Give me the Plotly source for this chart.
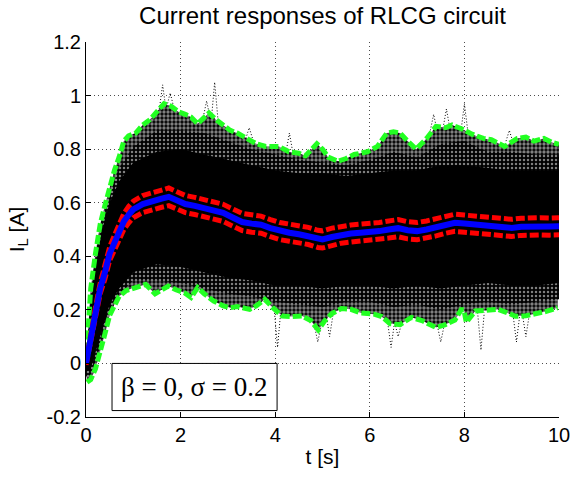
import plotly.graph_objects as go

# ---------------- data ----------------
mean_t = [0, 0.05, 0.1, 0.2, 0.3, 0.4, 0.5, 0.6, 0.7, 0.8, 0.9, 1.0, 1.2, 1.4, 1.6, 1.75,
          1.9, 2.1, 2.3, 2.5, 2.7, 2.9, 3.1, 3.3, 3.5, 3.7, 3.9, 4.1, 4.3, 4.5, 4.7, 4.9,
          5.0, 5.2, 5.4, 5.6, 5.8, 6.0, 6.2, 6.4, 6.6, 6.8, 7.0, 7.2, 7.4, 7.6, 7.8, 8.0,
          8.2, 8.4, 8.6, 8.8, 9.0, 9.2, 9.4, 9.6, 9.8, 10.0]
mean_i = [0.0, 0.05, 0.10, 0.19, 0.28, 0.34, 0.41, 0.45, 0.49, 0.53, 0.555, 0.575, 0.595,
          0.607, 0.615, 0.622, 0.61, 0.595, 0.588, 0.58, 0.572, 0.562, 0.545, 0.528, 0.522,
          0.518, 0.505, 0.494, 0.488, 0.482, 0.476, 0.465, 0.463, 0.472, 0.481, 0.485, 0.488,
          0.49, 0.494, 0.50, 0.505, 0.497, 0.494, 0.50, 0.508, 0.518, 0.525, 0.522, 0.519,
          0.515, 0.512, 0.508, 0.506, 0.51, 0.512, 0.512, 0.511, 0.512]
red_up = [0.005, 0.06, 0.115, 0.21, 0.30, 0.365, 0.435, 0.478, 0.52, 0.56, 0.586, 0.606,
          0.627, 0.639, 0.647, 0.655, 0.643, 0.627, 0.62, 0.612, 0.604, 0.594, 0.577, 0.56,
          0.555, 0.55, 0.537, 0.526, 0.52, 0.514, 0.508, 0.497, 0.495, 0.505, 0.513, 0.517,
          0.52, 0.522, 0.526, 0.532, 0.537, 0.529, 0.526, 0.532, 0.54, 0.55, 0.557, 0.554,
          0.551, 0.547, 0.544, 0.54, 0.538, 0.542, 0.544, 0.544, 0.543, 0.544]
red_lo = [-0.005, 0.04, 0.085, 0.17, 0.26, 0.315, 0.385, 0.422, 0.46, 0.50, 0.524, 0.544,
          0.563, 0.575, 0.583, 0.589, 0.577, 0.563, 0.556, 0.548, 0.54, 0.53, 0.513, 0.496,
          0.49, 0.486, 0.473, 0.462, 0.456, 0.45, 0.444, 0.433, 0.431, 0.44, 0.449, 0.453,
          0.456, 0.458, 0.462, 0.468, 0.473, 0.465, 0.462, 0.468, 0.476, 0.486, 0.493, 0.49,
          0.487, 0.483, 0.48, 0.476, 0.474, 0.478, 0.48, 0.48, 0.479, 0.48]

gup_t = [0, 0.05, 0.1, 0.2, 0.3, 0.4, 0.5, 0.6, 0.7, 0.8, 0.9, 1.05, 1.2, 1.35, 1.5, 1.65,
         1.8, 1.95, 2.1, 2.22, 2.36, 2.5, 2.6, 2.75, 2.91, 3.05, 3.2, 3.4, 3.6, 3.8, 4.08,
         4.29, 4.5, 4.64, 4.88, 5.0, 5.12, 5.33, 5.5, 5.67, 5.95, 6.16, 6.36, 6.5, 6.64,
         6.8, 6.98, 7.2, 7.4, 7.6, 7.74, 7.95, 8.16, 8.4, 8.57, 8.85, 9.12, 9.3, 9.47,
         9.68, 9.85, 10.0]
gup_i = [0.0, 0.15, 0.28, 0.41, 0.52, 0.59, 0.66, 0.72, 0.77, 0.83, 0.85, 0.86, 0.89,
         0.91, 0.94, 0.97, 0.96, 0.94, 0.93, 0.92, 0.895, 0.92, 0.935, 0.91, 0.89, 0.87,
         0.86, 0.84, 0.82, 0.81, 0.81, 0.79, 0.785, 0.775, 0.82, 0.80, 0.77, 0.755, 0.765,
         0.78, 0.79, 0.81, 0.86, 0.865, 0.86, 0.83, 0.80, 0.84, 0.885, 0.88, 0.89, 0.875,
         0.856, 0.84, 0.835, 0.81, 0.84, 0.845, 0.83, 0.84, 0.825, 0.818]

glo_t = [0.02, 0.1, 0.2, 0.3, 0.4, 0.5, 0.6, 0.7, 0.85, 1.05, 1.26, 1.46, 1.6, 1.74, 1.9,
         2.08, 2.22, 2.36, 2.5, 2.7, 2.9, 3.05, 3.2, 3.46, 3.6, 3.78, 3.95, 4.15, 4.36,
         4.57, 4.75, 4.91, 5.05, 5.19, 5.4, 5.6, 5.81, 6.09, 6.25, 6.43, 6.64, 6.88, 7.1,
         7.4, 7.6, 7.8, 7.93, 7.99, 8.04, 8.23, 8.45, 8.71, 8.9, 9.08, 9.3, 9.5, 9.75, 9.97]
glo_i = [-0.07, -0.06, -0.02, 0.04, 0.11, 0.18, 0.22, 0.25, 0.272, 0.285, 0.295, 0.26,
         0.275, 0.289, 0.275, 0.264, 0.246, 0.283, 0.26, 0.233, 0.215, 0.208, 0.212, 0.202,
         0.215, 0.239, 0.208, 0.177, 0.175, 0.177, 0.16, 0.125, 0.16, 0.185, 0.205, 0.202,
         0.188, 0.184, 0.175, 0.148, 0.145, 0.172, 0.16, 0.134, 0.145, 0.162, 0.2, 0.2,
         0.153, 0.196, 0.198, 0.202, 0.19, 0.176, 0.178, 0.184, 0.195, 0.208]

core_t = [0, 0.1, 0.2, 0.3, 0.4, 0.5, 0.7, 1.0, 1.5, 2.0, 2.5, 3.0, 3.5, 4.0, 4.5, 5.0,
          5.5, 6.0, 6.5, 7.0, 7.5, 8.0, 8.5, 9.0, 9.5, 10.0]
core_up = [0.0, 0.22, 0.36, 0.46, 0.54, 0.60, 0.68, 0.75, 0.79, 0.80, 0.78, 0.76, 0.74,
           0.72, 0.71, 0.71, 0.70, 0.71, 0.72, 0.72, 0.74, 0.74, 0.73, 0.72, 0.72, 0.72]
core_lo = [-0.03, -0.02, 0.04, 0.10, 0.16, 0.22, 0.28, 0.34, 0.37, 0.36, 0.34, 0.32, 0.31,
           0.29, 0.29, 0.28, 0.29, 0.29, 0.28, 0.29, 0.28, 0.29, 0.30, 0.29, 0.29, 0.30]
mid_up = [0.0, 0.25, 0.39, 0.49, 0.57, 0.63, 0.73, 0.81, 0.87, 0.87, 0.86, 0.83, 0.80,
          0.78, 0.76, 0.75, 0.74, 0.76, 0.79, 0.77, 0.82, 0.83, 0.79, 0.79, 0.78, 0.78]
mid_lo = [-0.05, -0.04, 0.01, 0.07, 0.13, 0.20, 0.26, 0.31, 0.31, 0.30, 0.28, 0.26, 0.25,
          0.23, 0.22, 0.21, 0.23, 0.23, 0.21, 0.22, 0.20, 0.22, 0.23, 0.22, 0.23, 0.24]

# sparse excursions of individual sample paths beyond the green envelopes
spike_up_t = [1.62, 1.78, 2.55, 2.72, 3.45, 4.3, 7.35, 7.62, 8.0, 8.95]
spike_up_tip = [1.04, 1.01, 0.98, 1.05, 0.88, 0.86, 0.93, 0.95, 0.97, 0.87]
spike_up_base = [0.95, 0.96, 0.92, 0.91, 0.84, 0.79, 0.87, 0.88, 0.87, 0.83]
spike_lo_t = [4.05, 4.9, 5.15, 6.45, 6.6, 7.5, 8.35, 9.1, 9.3]
spike_lo_tip = [0.06, 0.08, 0.10, 0.06, 0.10, 0.08, 0.05, 0.08, 0.10]
spike_lo_base = [0.20, 0.14, 0.18, 0.15, 0.15, 0.14, 0.19, 0.18, 0.18]

x_ticks = [0, 2, 4, 6, 8, 10]
x_ticktext = ["0", "2", "4", "6", "8", "10"]
y_ticks = [-0.2, 0, 0.2, 0.4, 0.6, 0.8, 1.0, 1.2]
y_ticktext = ["-0.2", "0", "0.2", "0.4", "0.6", "0.8", "1", "1.2"]

title_text = "Current responses of RLCG circuit"
xlabel = "t [s]"
ylabel = "I<sub>L</sub> [A]"
box_text = "β = 0, σ = 0.2"
box_x = [0.55, 4.04]
box_y = [-0.176, 0.0]

SANS = "Liberation Sans, Arial, sans-serif"
SERIF = "Liberation Serif, Times New Roman, serif"


def band(t_up, y_up, t_lo, y_lo):
    return list(t_up) + list(reversed(t_lo)), list(y_up) + list(reversed(y_lo))


def spikes(ts, tips, bases, half=0.07):
    xs, ys = [], []
    for t, tip, base in zip(ts, tips, bases):
        xs += [t - half, t, t + half, None]
        ys += [base, tip, base, None]
    return xs, ys


fig = go.Figure()

# spikes of the sample-path cloud
for ts, tips, bases in [(spike_up_t, spike_up_tip, spike_up_base),
                        (spike_lo_t, spike_lo_tip, spike_lo_base)]:
    sx, sy = spikes(ts, tips, bases)
    fig.add_trace(go.Scatter(x=sx, y=sy, mode="lines",
                             line=dict(color="black", width=1, dash="1px,2px"),
                             hoverinfo="skip"))

# sample-path cloud: black with white speckles, denser towards the centre
bx, by = band(gup_t, gup_i, glo_t, glo_i)
fig.add_trace(go.Scatter(x=bx, y=by, mode="lines", fill="toself", line=dict(width=0),
                         fillcolor="rgba(0,0,0,0)",
                         fillpattern=dict(shape=".", fgcolor="white", bgcolor="black",
                                          size=4, solidity=0.55),
                         hoverinfo="skip"))
bx, by = band(core_t, mid_up, core_t, mid_lo)
fig.add_trace(go.Scatter(x=bx, y=by, mode="lines", fill="toself", line=dict(width=0),
                         fillcolor="rgba(0,0,0,0)",
                         fillpattern=dict(shape=".", fgcolor="white", bgcolor="black",
                                          size=4, solidity=0.3),
                         hoverinfo="skip"))
bx, by = band(core_t, core_up, core_t, core_lo)
fig.add_trace(go.Scatter(x=bx, y=by, mode="lines", fill="toself", line=dict(width=0),
                         fillcolor="black", hoverinfo="skip"))

GREEN = "#22ff22"
fig.add_trace(go.Scatter(x=gup_t, y=gup_i, mode="lines",
                         line=dict(color=GREEN, width=5, dash="9px,3px")))
fig.add_trace(go.Scatter(x=glo_t, y=glo_i, mode="lines",
                         line=dict(color=GREEN, width=5, dash="9px,3px")))
fig.add_trace(go.Scatter(x=mean_t, y=red_up, mode="lines",
                         line=dict(color="#ff0000", width=5, dash="9px,3px")))
fig.add_trace(go.Scatter(x=mean_t, y=red_lo, mode="lines",
                         line=dict(color="#ff0000", width=5, dash="9px,3px")))
fig.add_trace(go.Scatter(x=mean_t, y=mean_i, mode="lines",
                         line=dict(color="#0000ff", width=6)))

fig.add_shape(type="rect", xref="x", yref="y", x0=box_x[0], x1=box_x[1],
              y0=box_y[0], y1=box_y[1], line=dict(color="black", width=1),
              fillcolor="white", layer="above")
fig.add_annotation(x=(box_x[0] + box_x[1]) / 2, y=(box_y[0] + box_y[1]) / 2,
                   xref="x", yref="y", text=box_text, showarrow=False,
                   font=dict(family=SERIF, size=27, color="black"))

axis_common = dict(showline=True, linecolor="black", linewidth=1, mirror=False,
                   ticks="inside", ticklen=5, tickcolor="black", tickwidth=1,
                   showgrid=True, gridcolor="rgba(0,0,0,0.7)", griddash="1px,3px",
                   gridwidth=1, zeroline=False,
                   tickfont=dict(family=SANS, size=20, color="black"))

fig.update_layout(
    width=582, height=477,
    margin=dict(l=86, r=13, t=42, b=59),
    paper_bgcolor="white", plot_bgcolor="white",
    showlegend=False,
    title=dict(text=title_text, x=0.5, xref="paper", xanchor="center",
               y=1 - 16 / 477, yref="container", yanchor="middle",
               font=dict(family=SANS, size=24, color="black")),
    xaxis=dict(range=[0, 10], tickvals=x_ticks, ticktext=x_ticktext,
               title=dict(text=xlabel, font=dict(family=SANS, size=21, color="black"),
                          standoff=4),
               **axis_common),
    yaxis=dict(range=[-0.2, 1.2], tickvals=y_ticks, ticktext=y_ticktext,
               title=dict(text=ylabel, font=dict(family=SANS, size=21, color="black"),
                          standoff=16),
               **axis_common),
)

fig.write_html("out.html")
